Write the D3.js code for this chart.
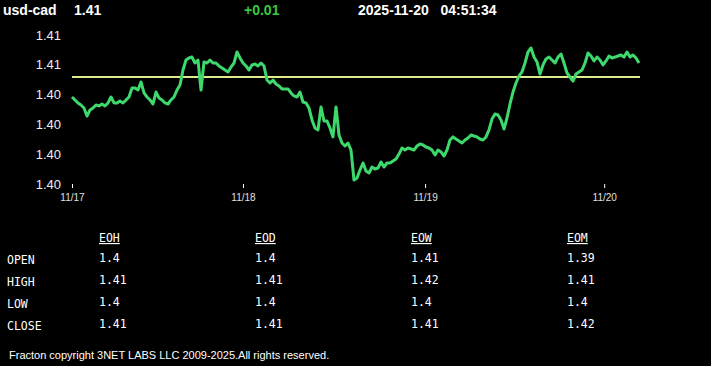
<!DOCTYPE html>
<html><head><meta charset="utf-8">
<script src="https://cdn.jsdelivr.net/npm/d3@7"></script>
<style>
html,body{margin:0;padding:0;background:#000;}
svg{display:block;}
</style>
</head><body>
<svg id="c" width="711" height="366"></svg>
<script>
// ---- data ----
const symbol = "usd-cad";
const lastPrice = "1.41";
const change = "+0.01";
const stamp = "2025-11-20   04:51:34";
const yTicks = [1.408, 1.406, 1.404, 1.402, 1.400, 1.398];
const xTickIdx = [0, 57, 117.7, 177.4];
const xTickLabels = ["11/17", "11/18", "11/19", "11/20"];
const refLevel = 1.40518;
const prices = [
1.40384,1.40364,1.40344,1.40330,1.40310,1.40256,1.40297,1.40310,1.40330,1.40324,
1.40337,1.40324,1.40344,1.40384,1.40344,1.40344,1.40357,1.40344,1.40364,1.40384,
1.40444,1.40444,1.40431,1.40485,1.40411,1.40384,1.40364,1.40337,1.40417,1.40377,
1.40364,1.40344,1.40337,1.40364,1.40384,1.40431,1.40464,1.40565,1.40632,1.40646,
1.40652,1.40612,1.40632,1.40431,1.40619,1.40612,1.40632,1.40612,1.40612,1.40592,
1.40579,1.40565,1.40552,1.40585,1.40612,1.40686,1.40646,1.40612,1.40592,1.40565,
1.40599,1.40605,1.40592,1.40612,1.40592,1.40498,1.40478,1.40498,1.40471,1.40458,
1.40438,1.40438,1.40438,1.40411,1.40391,1.40384,1.40417,1.40350,1.40344,1.40310,
1.40230,1.40176,1.40163,1.40317,1.40223,1.40223,1.40176,1.40116,1.40317,1.40129,
1.40075,1.40055,1.40075,1.40028,1.39827,1.39840,1.39894,1.39941,1.39887,1.39874,
1.39914,1.39901,1.39907,1.39948,1.39914,1.39941,1.39941,1.39954,1.39968,1.40001,
1.40042,1.40028,1.40042,1.40035,1.40028,1.40055,1.40069,1.40062,1.40048,1.40042,
1.40028,1.39995,1.40028,1.40015,1.39988,1.40028,1.40095,1.40116,1.40102,1.40089,
1.40075,1.40095,1.40109,1.40129,1.40122,1.40116,1.40102,1.40095,1.40116,1.40163,
1.40236,1.40270,1.40263,1.40230,1.40169,1.40243,1.40337,1.40417,1.40478,1.40525,
1.40552,1.40612,1.40686,1.40713,1.40652,1.40619,1.40538,1.40599,1.40639,1.40652,
1.40632,1.40612,1.40652,1.40672,1.40612,1.40545,1.40518,1.40491,1.40538,1.40552,
1.40565,1.40612,1.40679,1.40659,1.40626,1.40652,1.40632,1.40599,1.40626,1.40659,
1.40646,1.40652,1.40659,1.40666,1.40652,1.40686,1.40652,1.40666,1.40646,1.40612
];
const tableCols = ["EOH", "EOD", "EOW", "EOM"];
const tableRows = ["OPEN", "HIGH", "LOW", "CLOSE"];
const eoh = ["1.4", "1.41", "1.4", "1.41"];
const eod = ["1.4", "1.41", "1.4", "1.41"];
const eow = ["1.41", "1.42", "1.4", "1.41"];
const eom = ["1.39", "1.41", "1.4", "1.42"];
const footer = "Fracton copyright 3NET LABS LLC 2009-2025.All rights reserved.";

// ---- drawing ----
const svg = d3.select("#c");
svg.append("rect").attr("width", 711).attr("height", 366).attr("fill", "#000");

const hdrFont = "Liberation Sans, Arial, sans-serif";
const hdr = svg.append("g").attr("font-family", hdrFont).attr("font-weight", "bold").attr("font-size", 14);
hdr.append("text").attr("x", 3).attr("y", 15).attr("fill", "#fff").text(symbol);
hdr.append("text").attr("x", 74).attr("y", 15).attr("fill", "#fff").text(lastPrice);
hdr.append("text").attr("x", 244).attr("y", 15).attr("fill", "#3cc83c").text(change);
hdr.append("text").attr("x", 358).attr("y", 15).attr("fill", "#fff").style("white-space", "pre").text(stamp);

const x = d3.scaleLinear().domain([0, prices.length - 1]).range([72, 639]);
const y = d3.scaleLinear().domain([1.398, 1.408]).range([184, 35]);

// y labels
const ya = svg.append("g").attr("transform", "translate(61,0)")
  .call(d3.axisLeft(y).tickValues(yTicks).tickFormat(d3.format(".2f")).tickSize(0).tickPadding(0));
ya.select(".domain").remove();
ya.selectAll("text").attr("fill", "#eeeeee").attr("font-size", 13).attr("font-family", hdrFont);

// x axis
const xa = svg.append("g").attr("transform", "translate(0,184)")
  .call(d3.axisBottom(x).tickValues(xTickIdx).tickFormat((d, i) => xTickLabels[i]).tickSize(4).tickPadding(6));
xa.select(".domain").remove();
xa.selectAll("line").attr("stroke", "#fff");
xa.selectAll("text").attr("fill", "#e0e0e0").attr("font-size", 10).attr("font-family", hdrFont);

// reference line
svg.append("line")
  .attr("x1", x(0)).attr("x2", x(prices.length - 1) + 1)
  .attr("y1", y(refLevel)).attr("y2", y(refLevel))
  .attr("stroke", "#dfeb8c").attr("stroke-width", 2);

// price line
const line = d3.line().x((d, i) => x(i)).y(d => y(d));
svg.append("path").datum(prices).attr("d", line)
  .attr("fill", "none").attr("stroke", "#3ed96c").attr("stroke-width", 3).attr("stroke-linejoin", "round");

// table
const mono = "DejaVu Sans Mono, monospace";
const colX = [99, 255, 411, 567];
const colVals = [eoh, eod, eow, eom];
const rowY = [262, 284, 306, 328];
const tb = svg.append("g").attr("font-family", mono).attr("font-size", 11.5).attr("fill", "#fff");
tableCols.forEach((c, i) => {
  tb.append("text").attr("x", colX[i]).attr("y", 242).attr("text-decoration", "underline").text(c);
  colVals[i].forEach((v, j) => {
    tb.append("text").attr("x", colX[i]).attr("y", rowY[j]).text(v);
  });
});
tableRows.forEach((r, j) => {
  tb.append("text").attr("x", 7).attr("y", rowY[j] + 2).text(r);
});

svg.append("text").attr("x", 9).attr("y", 359).attr("fill", "#fff")
  .attr("font-family", hdrFont).attr("font-size", 11).text(footer);
</script>
</body></html>
